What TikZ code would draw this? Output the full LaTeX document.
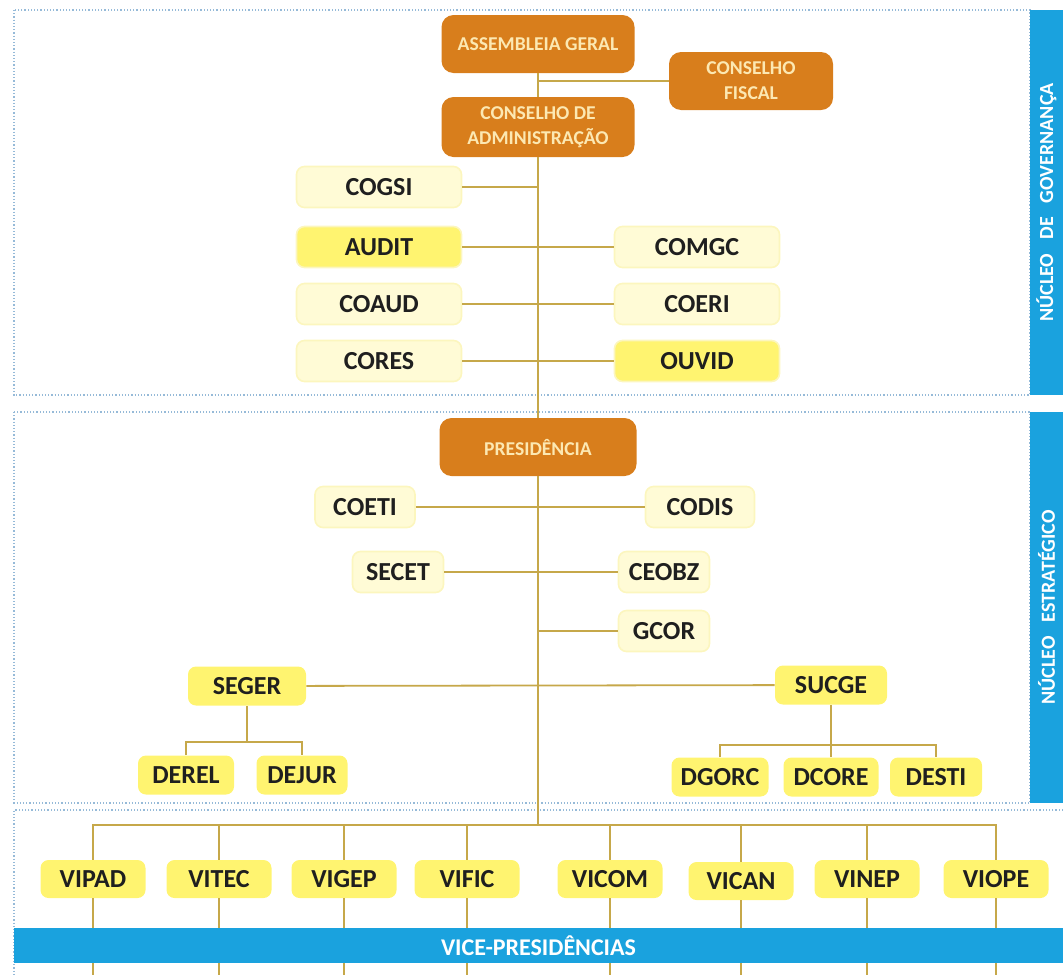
\documentclass[tikz,border=0pt]{standalone}
\usepackage{fontspec}
\setmainfont{Carlito}
\usepackage{tikz}
\definecolor{myorange}{RGB}{216,126,28}
\definecolor{mypale}{RGB}{252,232,178}
\definecolor{mycream}{RGB}{255,251,214}
\definecolor{myglow}{RGB}{252,246,190}
\definecolor{myyellow}{RGB}{255,244,112}
\definecolor{myblue}{RGB}{26,162,222}
\definecolor{myline}{RGB}{198,168,74}
\definecolor{myframe}{RGB}{150,186,216}
\tikzset{unit/.style={rounded corners=4pt, inner sep=0pt, text=black!88, font=\bfseries\fontsize{13}{15}\selectfont}}
\tikzset{top/.style={unit, rounded corners=6pt, fill=myorange, text=mypale, align=center, minimum width=96.5pt, minimum height=29pt, font=\bfseries\fontsize{9.8}{12.5}\selectfont}}
\tikzset{C/.style={unit, fill=mycream, draw=myglow, line width=0.8pt}}
\tikzset{Y/.style={unit, fill=myyellow}}
\tikzset{link/.style={draw=myline, line width=0.9pt}}
\tikzset{frame/.style={draw=myframe, densely dotted, line width=0.6pt}}
\tikzset{band/.style={fill=myblue, text=white, inner sep=0pt, font=\bfseries\fontsize{10}{11}\selectfont}}

\begin{document}
\begin{tikzpicture}[x=0.5pt, y=-0.5pt]
\path [use as bounding box] (0,0) rectangle (1063,975);
\draw [frame] (14,10) rectangle (1030,395);
\draw [frame] (14,412) rectangle (1030,803);
\draw [frame] (1063,810) -- (14,810) -- (14,975);
\coordinate (trunk) at (538,0);
\coordinate (vbus) at (538,825);
\coordinate (vend) at (0,975);

% governanca
\node [top] (assembleia) at (538,44) {ASSEMBLEIA GERAL};
\node [top, minimum width=82pt] (fiscal) at (751,81) {CONSELHO\\FISCAL};
\node [top, minimum height=30pt] (admin) at (538,127) {CONSELHO DE\\ADMINISTRAÇÃO};
\foreach \n/\x/\y/\c in {COGSI/379/187/mycream, AUDIT/379/247/myyellow, COAUD/379/304/mycream, CORES/379/361/mycream,
  COMGC/697/247/mycream, COERI/697/304/mycream, OUVID/697/361/myyellow} {
  \node [C, fill=\c, minimum width=82.5pt, minimum height=20.5pt] (\n) at (\x,\y) {\n};
}

% estrategico
\node [top, minimum width=98.5pt] (presid) at (538,447) {PRESIDÊNCIA};
\foreach \n/\x/\y/\w in {COETI/365/507/50, CODIS/700/507/54.5, SECET/398/572/45.5, CEOBZ/664/572/45.5, GCOR/664/631/45.5} {
  \node [C, minimum width=\w pt, minimum height=20.5pt] (\n) at (\x,\y) {\n};
}
\foreach \n/\x/\y/\w in {SEGER/247/686/59, SUCGE/831/685/56, DEREL/186/775/48, DEJUR/302/775/45.5,
  DGORC/720/777/48.5, DCORE/831/777/47.5, DESTI/936/777/46} {
  \node [Y, minimum width=\w pt, minimum height=19.5pt] (\n) at (\x,\y) {\n};
}

% vice-presidencias
\foreach \n/\x/\y in {VIPAD/93/879, VITEC/219/879, VIGEP/344/879, VIFIC/467/879, VICOM/610/879, VICAN/741/881, VINEP/867/879, VIOPE/996/879} {
  \node [Y, minimum width=52.5pt, minimum height=19pt] (\n) at (\x,\y) {\n};
  \draw [link] (\n.south) -- (\n.south |- vend);
}

\draw [link] (assembleia) -- (admin);
\draw [link] (fiscal) -- (fiscal -| trunk);
\draw [link] (admin) -- (presid);
\draw [link] (presid) -- (vbus);
\draw [link] (COGSI) -- (COGSI -| trunk);
\draw [link] (AUDIT) -- (COMGC);
\draw [link] (COAUD) -- (COERI);
\draw [link] (CORES) -- (OUVID);
\draw [link] (COETI) -- (CODIS);
\draw [link] (SECET) -- (CEOBZ);
\draw [link] (GCOR) -- (GCOR -| trunk);
\draw [link] (SEGER) -- (SUCGE);
\draw [link] (SEGER.south) -- ++(0,36) coordinate (segbus);
\draw [link] (DEREL.north) |- (segbus) -| (DEJUR.north);
\draw [link] (SUCGE.south) -- ++(0,40) coordinate (sucbus);
\draw [link] (DGORC.north) |- (sucbus) -| (DESTI.north);
\draw [link] (DCORE.north) -- (DCORE.north |- sucbus);
\draw [link] (VIPAD.north) |- (vbus) -| (VIOPE.north);
\foreach \n in {VITEC, VIGEP, VIFIC, VICOM, VICAN, VINEP} {
  \draw [link] (\n.north) -- (\n.north |- vbus);
}

\node [band, rotate=90, minimum width=192.5pt, minimum height=16.5pt] (ngov) at (1046.5,202.5) {NÚCLEO\hspace{7pt}DE\hspace{7pt}GOVERNANÇA};
\node [band, rotate=90, minimum width=195.5pt, minimum height=16.5pt] (nest) at (1046.5,607.5) {NÚCLEO\hspace{7pt}ESTRATÉGICO};
\node [band, minimum width=524.5pt, minimum height=17.5pt, font=\bfseries\fontsize{12}{14}\selectfont] (nvice) at (538.5,945.5) {VICE-PRESIDÊNCIAS};
\end{tikzpicture}
\end{document}
